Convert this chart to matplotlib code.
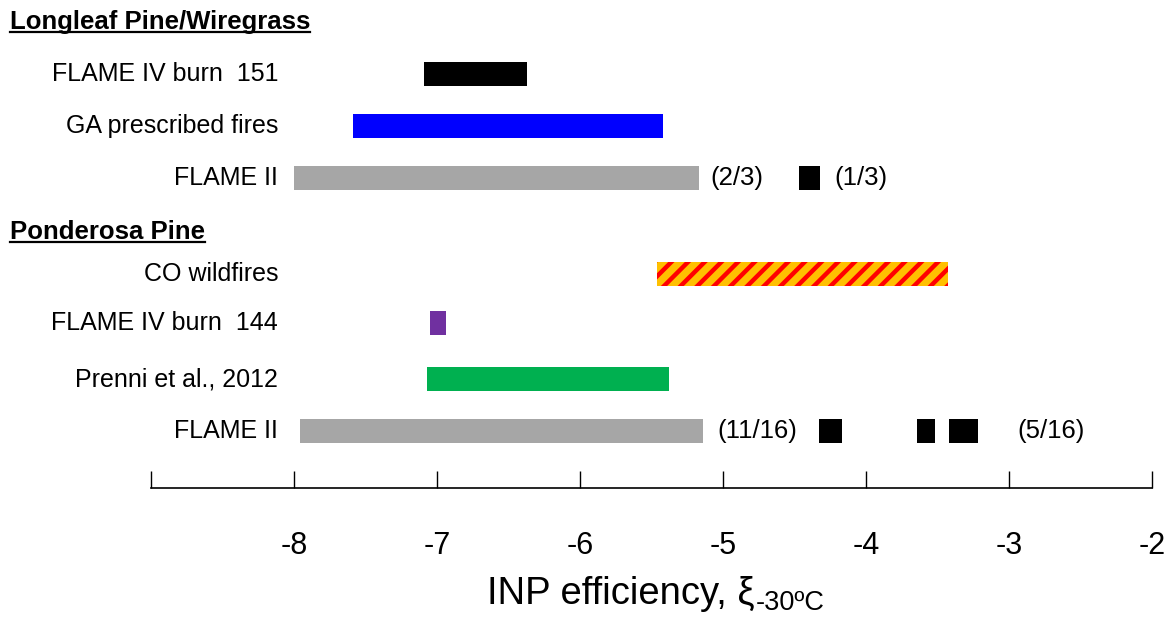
import numpy as np
import matplotlib
matplotlib.use('Agg')
import matplotlib.pyplot as plt
from matplotlib import transforms

plt.rcParams['font.family'] = ['Liberation Sans', 'DejaVu Sans']
plt.rcParams['hatch.linewidth'] = 3.2

# rows, top to bottom (headers are rows without bars)
headers = ['Longleaf Pine/Wiregrass', 'Ponderosa Pine']
labels = ['FLAME IV burn  151', 'GA prescribed fires', 'FLAME II',
          'CO wildfires', 'FLAME IV burn  144', 'Prenni et al., 2012', 'FLAME II']

# log10 INP efficiency ranges (start, end)
burn151 = (-7.09, -6.37)
ga_fires = (-7.59, -5.42)
flame2_ll_main = (-8.00, -5.17)
flame2_ll_high = (-4.47, -4.32)
co_fires = (-5.46, -3.43)
burn144 = (-7.05, -6.94)
prenni = (-7.07, -5.38)
flame2_pp_main = (-7.96, -5.14)
flame2_pp_high = [(-4.33, -4.17), (-3.64, -3.52), (-3.42, -3.22)]

fractions_ll = ['(2/3)', '(1/3)']
fractions_pp = ['(11/16)', '(5/16)']

# vertical slots
header_rows = [0, 4.12]
label_rows = [1.02, 2.04, 3.06, 4.94, 5.9, 7.0, 8.02]

fig = plt.figure(figsize=(11.67, 6.18), dpi=100)
ax = fig.add_axes([151/1167, 1 - 488/618, (1152-151)/1167, 488/618])
ax.set_xlim(-9, -2)
ax.set_ylim(9.137, -0.431)

h = 0.48
r = dict(zip(range(7), label_rows))


def bar(row, rng, **kw):
    ax.barh(row, rng[1] - rng[0], left=rng[0], height=h, **kw)


bar(r[0], burn151, color='black')
bar(r[1], ga_fires, color='#0000FF')
bar(r[2], flame2_ll_main, color='#A6A6A6')
bar(r[2], flame2_ll_high, color='black')
bar(r[3], co_fires, color='#FFC000', edgecolor='#FF0000', hatch='//', linewidth=0)
bar(r[4], burn144, color='#7030A0')
bar(r[5], prenni, color='#00B050')
bar(r[6], flame2_pp_main, color='#A6A6A6')
for rng in flame2_pp_high:
    bar(r[6], rng, color='black')

# fraction notes next to the FLAME II bars
fs = 18.5
ax.text(flame2_ll_main[1] + 0.08, r[2], fractions_ll[0], fontsize=fs, va='center')
ax.text(flame2_ll_high[1] + 0.1, r[2], fractions_ll[1], fontsize=fs, va='center')
ax.text(flame2_pp_main[1] + 0.1, r[6], fractions_pp[0], fontsize=fs, va='center')
ax.text(-2.94, r[6], fractions_pp[1], fontsize=fs, va='center')

# row labels and group headers in figure-pixel x, data y
trans = transforms.blended_transform_factory(fig.dpi_scale_trans, ax.transData)
for row, lab in zip(label_rows, labels):
    ax.text(278/100, row, lab, transform=trans, ha='right', va='center',
            fontsize=18, clip_on=False)
fig.canvas.draw()
for row, lab in zip(header_rows, headers):
    t = ax.text(10/100, row, lab, transform=trans, ha='left', va='center',
                fontsize=18.5, fontweight='bold', clip_on=False)
    # underline
    bb = t.get_window_extent(renderer=fig.canvas.get_renderer())
    fig.add_artist(plt.Line2D([bb.x0/1167, bb.x1/1167],
                              [(bb.y0 + 2)/618, (bb.y0 + 2)/618],
                              color='black', lw=1.6))

for s in ['left', 'right', 'top']:
    ax.spines[s].set_visible(False)
ax.spines['bottom'].set_linewidth(1.2)
ax.set_yticks([])
ax.set_xticks(np.arange(-9, -1))
ax.set_xticklabels([''] + [str(v) for v in range(-8, -1)])
ax.tick_params(axis='x', direction='in', length=12, width=1, labelsize=22, pad=31)

# axis title with a hand-placed subscript
main = fig.text(487/1167, 1 - 594/618, 'INP efficiency, ξ', ha='left', va='center',
                fontsize=27.5)
bb = main.get_window_extent(renderer=fig.canvas.get_renderer())
fig.text((bb.x1 + 1)/1167, 1 - 603/618, '-30ºC', ha='left', va='center', fontsize=19.5)

fig.savefig('out.png', dpi=100)
